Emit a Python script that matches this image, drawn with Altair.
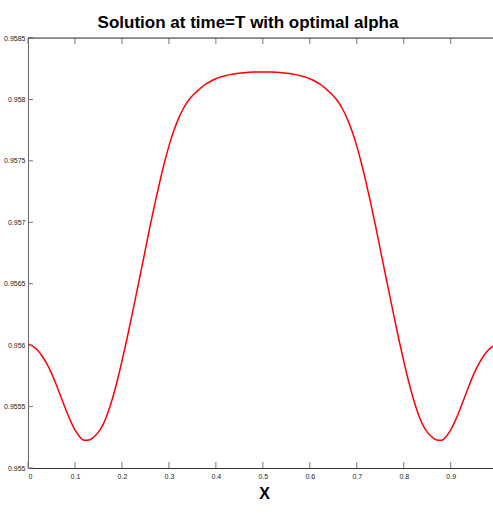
import altair as alt
import pandas as pd

x_grid = [0.00, 0.01, 0.02, 0.03, 0.04, 0.05, 0.06, 0.07, 0.08, 0.09,
          0.10, 0.11, 0.12, 0.13, 0.14, 0.15, 0.16, 0.17, 0.18, 0.19,
          0.20, 0.21, 0.22, 0.23, 0.24, 0.25, 0.26, 0.27, 0.28, 0.29,
          0.30, 0.31, 0.32, 0.33, 0.34, 0.35, 0.36, 0.37, 0.38, 0.39,
          0.40, 0.41, 0.42, 0.43, 0.44, 0.45, 0.46, 0.47, 0.48, 0.49,
          0.50, 0.51, 0.52, 0.53, 0.54, 0.55, 0.56, 0.57, 0.58, 0.59,
          0.60, 0.61, 0.62, 0.63, 0.64, 0.65, 0.66, 0.67, 0.68, 0.69,
          0.70, 0.71, 0.72, 0.73, 0.74, 0.75, 0.76, 0.77, 0.78, 0.79,
          0.80, 0.81, 0.82, 0.83, 0.84, 0.85, 0.86, 0.87, 0.88, 0.89,
          0.90, 0.91, 0.92, 0.93, 0.94, 0.95, 0.96, 0.97, 0.98, 0.99]

u_vals = [0.956010, 0.955992, 0.955960, 0.955912, 0.955850, 0.955772, 0.955680, 0.955580, 0.955480, 0.955388,
          0.955310, 0.955255, 0.955225, 0.955228, 0.955252, 0.955292, 0.955355, 0.955450, 0.955568, 0.955710,
          0.955870, 0.956040, 0.956220, 0.956405, 0.956592, 0.956780, 0.956970, 0.957150, 0.957320, 0.957478,
          0.957620, 0.957740, 0.957840, 0.957920, 0.957983, 0.958030, 0.958066, 0.958100, 0.958128, 0.958150,
          0.958168, 0.958182, 0.958193, 0.958202, 0.958209, 0.958214, 0.958218, 0.958221, 0.958223, 0.958224,
          0.958224, 0.958224, 0.958223, 0.958221, 0.958218, 0.958214, 0.958209, 0.958202, 0.958193, 0.958182,
          0.958168, 0.958150, 0.958128, 0.958100, 0.958066, 0.958030, 0.957983, 0.957920, 0.957840, 0.957740,
          0.957620, 0.957478, 0.957320, 0.957150, 0.956970, 0.956780, 0.956592, 0.956405, 0.956220, 0.956040,
          0.955870, 0.955710, 0.955568, 0.955450, 0.955355, 0.955292, 0.955252, 0.955228, 0.955225, 0.955255,
          0.955310, 0.955388, 0.955480, 0.955580, 0.955680, 0.955772, 0.955850, 0.955912, 0.955960, 0.955992]

x_ticks = [0, 0.1, 0.2, 0.3, 0.4, 0.5, 0.6, 0.7, 0.8, 0.9]
y_ticks = [0.955, 0.9555, 0.956, 0.9565, 0.957, 0.9575, 0.958, 0.9585]

title_text = "Solution at time=T with optimal alpha"
x_title = "X"

W, H = 465, 430
FONT = "Liberation Sans Narrow, Liberation Sans, Arial, sans-serif"

df = pd.DataFrame({"x": x_grid, "u": u_vals})
xt = pd.DataFrame({"x": x_ticks})
yt = pd.DataFrame({"u": y_ticks})
one = pd.DataFrame({"a": [0]})

xscale = alt.Scale(domain=[0, 0.99], nice=False, zero=False)
yscale = alt.Scale(domain=[0.955, 0.9585], nice=False, zero=False)

xaxis = alt.Axis(values=x_ticks, format=".1~f", tickSize=0, labelPadding=4,
                 labelFont=FONT, labelFontSize=7, labelColor="#222",
                 domainColor="#333", grid=False,
                 title=x_title, titleFont=FONT, titleFontSize=16,
                 titleFontWeight="bold", titleColor="#000",
                 titleX=236, titleY=30, titleBaseline="alphabetic")
yaxis = alt.Axis(values=y_ticks, format=".4~f", tickSize=0, labelPadding=3,
                 labelFont=FONT, labelFontSize=7, labelColor="#222",
                 domainColor="#666", grid=False, title=None)

X = alt.X("x:Q", scale=xscale, axis=xaxis)
Y = alt.Y("u:Q", scale=yscale, axis=yaxis)

line = alt.Chart(df).mark_line(color="#ff0000", strokeWidth=1.5, clip=True,
                               interpolate="monotone").encode(x=X, y=Y)

xt_bottom = alt.Chart(xt).mark_rule(color="#777", strokeWidth=1).encode(
    x=X, y=alt.value(H), y2=alt.value(H - 6))
xt_top = alt.Chart(xt).mark_rule(color="#777", strokeWidth=1).encode(
    x=X, y=alt.value(0), y2=alt.value(6))
yt_left = alt.Chart(yt).mark_rule(color="#777", strokeWidth=1).encode(
    y=Y, x=alt.value(0), x2=alt.value(5))
top_line = alt.Chart(one).mark_rule(color="#333", strokeWidth=1).encode(
    x=alt.value(0), x2=alt.value(W), y=alt.value(0))
title = alt.Chart(one).mark_text(font=FONT, fontSize=17, fontWeight="bold",
                                 color="#000", align="center",
                                 baseline="alphabetic").encode(
    x=alt.value(220), y=alt.value(-10), text=alt.value(title_text))

chart = alt.layer(line, xt_bottom, xt_top, yt_left, top_line, title).properties(
    width=W, height=H,
    autosize=alt.AutoSizeParams(type="none"),
    padding={"left": 28, "top": 38, "right": 0, "bottom": 46},
).configure_view(stroke=None).configure(background="white")

chart.save("out.html", embed_options={"renderer": "svg", "actions": False})
